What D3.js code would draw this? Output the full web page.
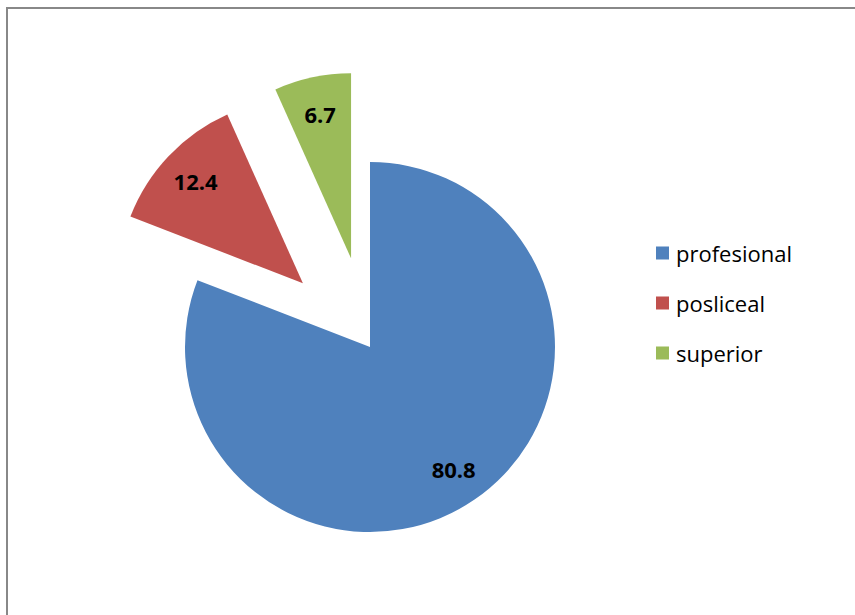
<!DOCTYPE html>
<html>
<head>
<meta charset="utf-8">
<script src="https://cdn.jsdelivr.net/npm/d3@7"></script>
<style>
  html, body { margin: 0; padding: 0; background: #fff; }
  svg { display: block; }
</style>
</head>
<body>
<svg id="chart" width="855" height="615"></svg>
<script>
const categories = ["profesional", "posliceal", "superior"];
const values = [80.8, 12.4, 6.7];
const labels = ["80.8", "12.4", "6.7"];
const colors = ["#4F81BD", "#C0504D", "#9BBB59"];
const explode = [0, 0.5, 0.49];

const svg = d3.select("#chart");
const W = 855, H = 615;

svg.append("rect")
  .attr("x", 7).attr("y", 8)
  .attr("width", W + 20).attr("height", H + 20)
  .attr("fill", "#fff")
  .attr("stroke", "#888")
  .attr("stroke-width", 2);

const cx = 370, cy = 347, r = 185;

const pie = d3.pie().sort(null).value(d => d)(values);
const arc = d3.arc().innerRadius(0).outerRadius(r);

const g = svg.append("g").attr("transform", `translate(${cx},${cy})`);

pie.forEach((p, i) => {
  const mid = (p.startAngle + p.endAngle) / 2;
  const d = explode[i] * r;
  const ox = Math.sin(mid) * d, oy = -Math.cos(mid) * d;
  const sg = g.append("g").attr("transform", `translate(${ox},${oy})`);
  sg.append("path").attr("d", arc(p)).attr("fill", colors[i]);
  const lr = r * 0.8;
  sg.append("text")
    .attr("x", Math.sin(mid) * lr)
    .attr("y", -Math.cos(mid) * lr)
    .attr("text-anchor", "middle")
    .attr("dominant-baseline", "central")
    .attr("font-family", "'Open Sans', sans-serif")
    .attr("font-weight", "bold")
    .attr("font-size", 22)
    .attr("fill", "#000")
    .text(labels[i]);
});

const leg = svg.append("g").attr("transform", "translate(656,253)");
categories.forEach((c, i) => {
  const row = leg.append("g").attr("transform", `translate(0,${i * 50})`);
  row.append("rect").attr("x", 0).attr("y", -6.5).attr("width", 13).attr("height", 13).attr("fill", colors[i]);
  row.append("text")
    .attr("x", 20).attr("y", 0)
    .attr("dominant-baseline", "central")
    .attr("font-family", "'Open Sans', sans-serif")
    .attr("font-size", 22)
    .attr("fill", "#000")
    .text(c);
});
</script>
</body>
</html>
